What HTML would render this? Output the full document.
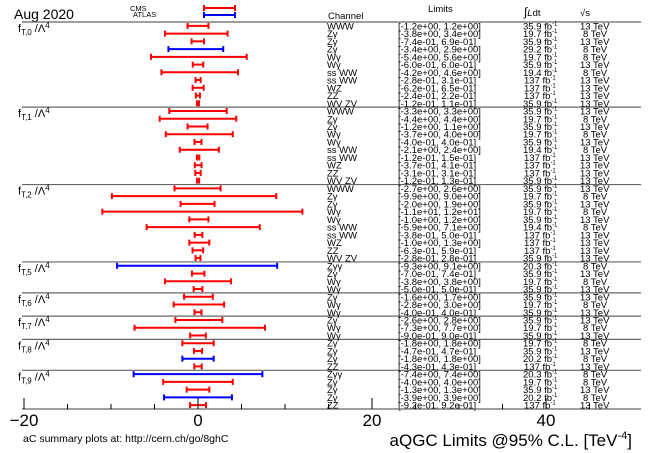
<!DOCTYPE html>
<html><head><meta charset="utf-8">
<style>
html,body{margin:0;padding:0;background:#fff;}
svg{display:block;font-family:"Liberation Sans",sans-serif;}
</style></head>
<body>
<svg id="chart" width="654" height="453" viewBox="0 0 654 453">
  <text x="14" y="19" font-size="14">Aug 2020</text>
  <g>
    <text x="130" y="11" font-size="7.5">CMS</text>
    <text x="133" y="17" font-size="7.5">ATLAS</text>
    <g stroke="#f00" stroke-width="2">
      <line x1="204" y1="8" x2="235" y2="8"/><line x1="204" y1="5" x2="204" y2="11"/><line x1="235" y1="5" x2="235" y2="11"/>
    </g>
    <g stroke="#00f" stroke-width="2">
      <line x1="204" y1="15" x2="235" y2="15"/><line x1="204" y1="12" x2="204" y2="18"/><line x1="235" y1="12" x2="235" y2="18"/>
    </g>
  </g>
  <g font-size="9.5" fill="#000">
    <text x="328" y="19">Channel</text>
    <text x="428" y="12">Limits</text>
    <text x="524" y="16"><tspan font-size="12">∫</tspan><tspan font-style="italic">L</tspan>dt</text>
    <text x="580" y="16">√s</text>
  </g>
  <g id="rows"></g>
  <g id="axis"></g>
  <text x="632" y="446" font-size="17" text-anchor="end">aQGC Limits @95% C.L. [TeV<tspan dy="-7" font-size="11">-4</tspan><tspan dy="7">]</tspan></text>
  <text x="23" y="442" font-size="10.5">aC summary plots at: http://cern.ch/go/8ghC</text>
</svg>
<script>
const groups = ["T,0","T,1","T,2","T,5","T,6","T,7","T,8","T,9"];
const groupSizes = [11,10,10,4,3,3,4,5];
const channels = ["WWW","Zγ","Zγ","Zγ","Wγ","Wγ","ss WW","ss WW","WZ","ZZ","WV ZV",
 "WWW","Zγ","Zγ","Wγ","Wγ","ss WW","ss WW","WZ","ZZ","WV ZV",
 "WWW","Zγ","Zγ","Wγ","Wγ","ss WW","ss WW","WZ","ZZ","WV ZV",
 "Zγγ","Zγ","Wγ","Wγ",
 "Zγ","Wγ","Wγ",
 "Zγ","Wγ","Wγ",
 "Zγ","Zγ","Zγ","ZZ",
 "Zγγ","Zγ","Zγ","Zγ","ZZ"];
const lowLimits = [-1.2,-3.8,-0.74,-3.4,-5.4,-0.60,-4.2,-0.28,-0.62,-0.24,-0.12,
 -3.3,-4.4,-1.2,-3.7,-0.40,-2.1,-0.12,-0.37,-0.31,-0.12,
 -2.7,-9.9,-2.0,-11,-1.0,-5.9,-0.38,-1.0,-0.63,-0.28,
 -9.3,-0.70,-3.8,-0.50,
 -1.6,-2.8,-0.40,
 -2.6,-7.3,-0.90,
 -1.8,-0.47,-1.8,-0.43,
 -7.4,-4.0,-1.3,-3.9,-0.92];
const highLimits = [1.2,3.4,0.69,2.9,5.6,0.60,4.6,0.31,0.65,0.22,0.11,
 3.3,4.4,1.1,4.0,0.40,2.4,0.15,0.41,0.31,0.13,
 2.6,9.0,1.9,12,1.2,7.1,0.50,1.3,0.59,0.28,
 9.1,0.74,3.8,0.50,
 1.7,3.0,0.40,
 2.8,7.7,0.90,
 1.8,0.47,1.8,0.43,
 7.4,4.0,1.3,3.9,0.92];
const lumis = ["35.9","19.7","35.9","29.2","19.7","35.9","19.4","137","137","137","35.9",
 "35.9","19.7","35.9","19.7","35.9","19.4","137","137","137","35.9",
 "35.9","19.7","35.9","19.7","35.9","19.4","137","137","137","35.9",
 "20.3","35.9","19.7","35.9",
 "35.9","19.7","35.9",
 "35.9","19.7","35.9",
 "19.7","35.9","20.2","137",
 "20.3","19.7","35.9","20.2","137"];
const energies = [13,8,13,8,8,13,8,13,13,13,13,
 13,8,13,8,13,8,13,13,13,13,
 13,8,13,8,13,8,13,13,13,13,
 8,13,8,13,
 13,8,13,
 13,8,13,
 8,13,8,13,
 8,8,13,8,13];
const experiments = ["C","C","C","A","C","C","C","C","C","C","C",
 "C","C","C","C","C","C","C","C","C","C",
 "C","C","C","C","C","C","C","C","C","C",
 "A","C","C","C",
 "C","C","C",
 "C","C","C",
 "C","C","A","C",
 "A","C","C","A","C"];
const xTicks = [-20,0,20,40];
const tickLabels = ["\u221220","0","20","40"];

const NS = "http://www.w3.org/2000/svg";
const X0 = 198, PXU = 8.7, TOP = 22, ROWH = 7.74, LEFT = 22, RIGHT = 641;
const xScale = v => X0 + v * PXU;
const yRow = i => TOP + ROWH * (i + 0.5);
function mk(tag, attrs, parent) { const e = document.createElementNS(NS, tag); for (const k in attrs) e.setAttribute(k, attrs[k]); parent.appendChild(e); return e; }
function fmt(v) {
  let s = Math.abs(v).toExponential(1).replace(/e([+-])(\d)$/, "e$10$2");
  return (v < 0 ? "-" : "") + s;
}
const rows = document.getElementById("rows");
let idx = 0;
groups.forEach((g, gi) => {
  const yTop = TOP + ROWH * idx;
  const sep = mk("line", {x1: LEFT, y1: yTop, x2: RIGHT, y2: yTop, stroke: "#666", "stroke-width": 1.2}, rows);
  
  
  const lab = mk("text", {x: 18, y: yTop + 10, "font-size": 11}, rows);
  
  
  lab.innerHTML = 'f<tspan dy="3" font-size="8">' + g + '</tspan><tspan dy="-3"> /Λ</tspan><tspan dy="-4" font-size="8">4</tspan>';
  idx += groupSizes[gi];
});
for (let i = 0; i < channels.length; i++) {
  const y = yRow(i);
  const col = experiments[i] === "A" ? "#00f" : "#f00";
  const x1 = xScale(lowLimits[i]), x2 = xScale(highLimits[i]);
  const bar = mk("g", {stroke: col, "stroke-width": 2}, rows);
  
  
  mk("line", {x1: x1, y1: y, x2: x2, y2: y}, bar);
  mk("line", {x1: x1, y1: y - 3, x2: x1, y2: y + 3}, bar);
  mk("line", {x1: x2, y1: y - 3, x2: x2, y2: y + 3}, bar);
  const ty = y + 3.5;
  const ch = mk("text", {x: 327, y: ty, "font-size": 9.5}, rows);
  
  
  ch.textContent = channels[i];
  const lim = mk("text", {x: 398, y: ty, "font-size": 9.5}, rows);
  
  
  lim.textContent = "[" + fmt(lowLimits[i]) + ", " + fmt(highLimits[i]) + "]";
  const lu = mk("text", {x: lumis[i] === "137" ? 524 : 523, y: ty, "font-size": 9.5}, rows);
  
  
  lu.innerHTML = lumis[i] + ' fb<tspan dy="-4" font-size="6">-1</tspan>';
  const en = mk("text", {x: energies[i] === 13 ? 580 : 583, y: ty, "font-size": 9.5}, rows);
  
  
  en.textContent = energies[i] + " TeV";
}
const axis = document.getElementById("axis");
const yB = TOP + ROWH * channels.length;
mk("line", {x1: LEFT, y1: yB, x2: RIGHT, y2: yB, stroke: "#666", "stroke-width": 1.2}, axis);
for (let v = -20; v <= 45; v += 5) {
  const major = xTicks.includes(v);
  const t = mk("line", {x1: xScale(v), y1: yB, x2: xScale(v), y2: yB - (major ? 11 : 5), stroke: "#000", "stroke-width": 1}, axis);
  
  
}
xTicks.forEach((v, k) => {
  const t = mk("text", {x: xScale(v), y: yB + 17, "font-size": 17, "text-anchor": "middle"}, axis);
  
  
  t.textContent = tickLabels[k];
});
</script>
</body></html>
